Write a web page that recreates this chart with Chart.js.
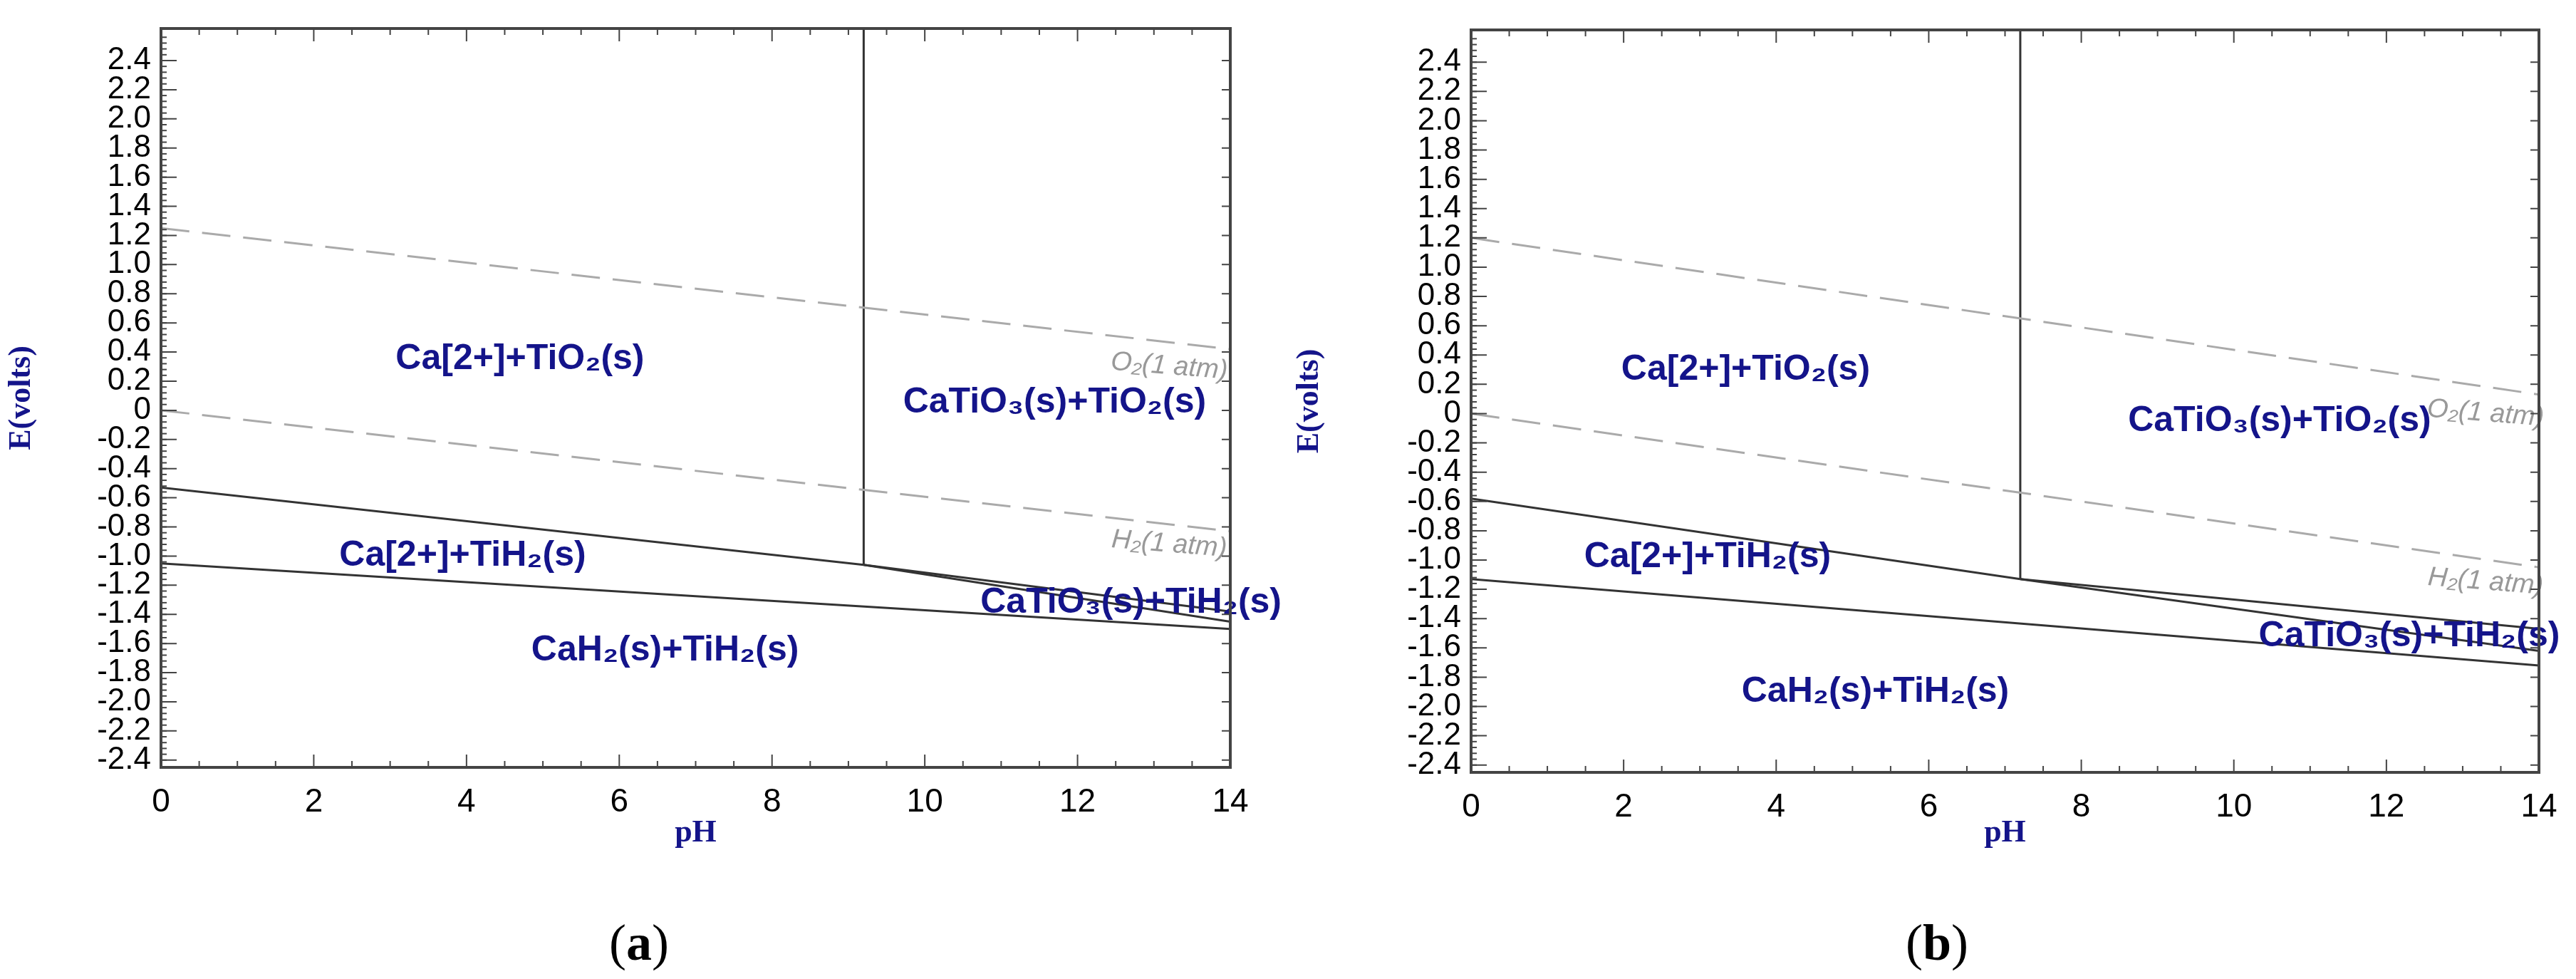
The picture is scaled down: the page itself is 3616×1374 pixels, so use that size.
<!DOCTYPE html>
<html>
<head>
<meta charset="utf-8">
<script src="https://cdn.jsdelivr.net/npm/chart.js@4.4.0/dist/chart.umd.min.js"></script>
<style>
  body { margin: 0; background: #fff; width: 3616px; height: 1374px; position: relative; overflow: hidden; }
  .panel { position: absolute; top: 0; width: 1808px; height: 1200px; }
  .cap { position: absolute; top: 1282px; font: 72px "Liberation Serif", serif; color: #000; }
</style>
</head>
<body>
<div class="panel" style="left:0"><canvas id="chartA"></canvas></div>
<div class="panel" style="left:1808px"><canvas id="chartB"></canvas></div>
<div class="cap" style="left:855px">(<b>a</b>)</div>
<div class="cap" style="left:2675px">(<b>b</b>)</div>
<script>
const phTicks = [0, 2, 4, 6, 8, 10, 12, 14];
const eTicks = [-2.4, -2.2, -2.0, -1.8, -1.6, -1.4, -1.2, -1.0, -0.8, -0.6, -0.4, -0.2, 0, 0.2, 0.4, 0.6, 0.8, 1.0, 1.2, 1.4, 1.6, 1.8, 2.0, 2.2, 2.4];

// panel (a)
const aO2 = [[0, 1.25], [14, 0.42]];
const aH2 = [[0, 0.0], [14, -0.83]];
const aVertical = [[9.2, 2.62], [9.2, -1.06]];
const aUpper = [[0, -0.53], [9.2, -1.06]];
const aBranch1 = [[9.2, -1.06], [14, -1.38]];
const aBranch2 = [[9.2, -1.06], [14, -1.45]];
const aLower = [[0, -1.05], [14, -1.50]];
const aLabels = [
  ["Ca[2+]+TiO₂(s)", 4.7, 0.35], ["CaTiO₃(s)+TiO₂(s)", 11.7, 0.05],
  ["Ca[2+]+TiH₂(s)", 3.95, -1.0], ["CaTiO₃(s)+TiH₂(s)", 12.7, -1.32],
  ["CaH₂(s)+TiH₂(s)", 6.6, -1.65]
];
const aGasLabels = [["O₂(1 atm)", 13.2, 0.3], ["H₂(1 atm)", 13.2, -0.92]];

// panel (b)
const bO2 = [[0, 1.2], [14, 0.13]];
const bH2 = [[0, 0.0], [14, -1.05]];
const bVertical = [[7.2, 2.62], [7.2, -1.13]];
const bUpper = [[0, -0.58], [7.2, -1.13]];
const bBranch1 = [[7.2, -1.13], [14, -1.47]];
const bBranch2 = [[7.2, -1.13], [14, -1.62]];
const bLower = [[0, -1.13], [14, -1.72]];
const bLabels = [
  ["Ca[2+]+TiO₂(s)", 3.6, 0.3], ["CaTiO₃(s)+TiO₂(s)", 10.6, -0.05],
  ["Ca[2+]+TiH₂(s)", 3.1, -0.98], ["CaTiO₃(s)+TiH₂(s)", 12.3, -1.52],
  ["CaH₂(s)+TiH₂(s)", 5.3, -1.9]
];
const bGasLabels = [["O₂(1 atm)", 13.3, 0.0], ["H₂(1 atm)", 13.3, -1.15]];

function pts(arr) { return arr.map(p => ({ x: p[0], y: p[1] })); }

function solid(arr) {
  return { data: pts(arr), showLine: true, borderColor: "#333", borderWidth: 3, pointRadius: 0 };
}
function dashed(arr) {
  return { data: pts(arr), showLine: true, borderColor: "#aaa", borderWidth: 3, borderDash: [40, 18], pointRadius: 0 };
}

const frameTicks = {
  id: "frameTicks",
  afterDraw(chart) {
    const { ctx, chartArea: a, scales } = chart;
    ctx.save();
    ctx.strokeStyle = "#444";
    ctx.lineWidth = 2;
    for (let v = 0; v <= 14.001; v += 0.5) {
      const x = scales.x.getPixelForValue(v);
      const len = Math.abs(v % 2) < 0.01 ? 18 : 9;
      ctx.beginPath();
      ctx.moveTo(x, a.bottom); ctx.lineTo(x, a.bottom - len);
      ctx.moveTo(x, a.top); ctx.lineTo(x, a.top + len);
      ctx.stroke();
    }
    for (const v of eTicks) {
      const y = scales.y.getPixelForValue(v);
      ctx.beginPath();
      ctx.moveTo(a.left, y); ctx.lineTo(a.left + 22, y);
      ctx.moveTo(a.right, y); ctx.lineTo(a.right - 12, y);
      ctx.stroke();
    }
    for (let v = -2.4; v <= 2.6; v += 0.04) {
      const y = scales.y.getPixelForValue(v);
      ctx.beginPath();
      ctx.moveTo(a.left, y); ctx.lineTo(a.left + 8, y);
      ctx.stroke();
    }
    ctx.lineWidth = 4;
    ctx.strokeRect(a.left, a.top, a.right - a.left, a.bottom - a.top);
    ctx.restore();
  }
};

const regionText = {
  id: "regionText",
  afterDatasetsDraw(chart, args, opts) {
    const { ctx, scales } = chart;
    ctx.save();
    ctx.textAlign = "center";
    ctx.textBaseline = "middle";
    ctx.fillStyle = "#14148a";
    ctx.font = "bold 50px 'Liberation Sans', Arial, sans-serif";
    for (const [t, x, y] of opts.labels) {
      ctx.fillText(t, scales.x.getPixelForValue(x), scales.y.getPixelForValue(y));
    }
    ctx.fillStyle = "#999";
    ctx.font = "italic 38px 'Liberation Sans', Arial, sans-serif";
    for (const [t, x, y] of opts.gas) {
      const px = scales.x.getPixelForValue(x), py = scales.y.getPixelForValue(y);
      ctx.save();
      ctx.translate(px, py);
      ctx.rotate(0.08);
      ctx.fillText(t, 0, 0);
      ctx.restore();
    }
    ctx.restore();
  }
};

function makeChart(id, lines, labels, gas, yWidth, xHeight, padTop, padRight) {
  return new Chart(document.getElementById(id), {
    type: "scatter",
    data: { datasets: lines },
    options: {
      responsive: false,
      animation: false,
      devicePixelRatio: 1,
      layout: { padding: { left: 0, top: padTop, right: padRight, bottom: 0 } },
      plugins: { legend: { display: false }, tooltip: { enabled: false }, regionText: { labels: labels, gas: gas } },
      scales: {
        x: {
          type: "linear", min: 0, max: 14,
          afterBuildTicks: s => { s.ticks = phTicks.map(v => ({ value: v })); },
          afterFit: s => { s.height = xHeight; },
          grid: { display: false },
          border: { display: false },
          ticks: { color: "#000", font: { size: 46, family: "'Liberation Sans', Arial" }, padding: 14, maxRotation: 0 },
          title: { display: true, text: "pH", color: "#14148a", font: { size: 44, weight: "bold", family: "'Liberation Serif', serif" }, padding: { top: 2 } }
        },
        y: {
          type: "linear", min: -2.45, max: 2.62,
          afterBuildTicks: s => { s.ticks = eTicks.map(v => ({ value: v })); },
          afterFit: s => { s.width = yWidth; },
          grid: { display: false },
          border: { display: false },
          ticks: {
            autoSkip: false, color: "#000", padding: 6,
            font: { size: 44, family: "'Liberation Sans Narrow', 'Liberation Sans', Arial" },
            callback: v => v === 0 ? "0" : v.toFixed(1)
          },
          title: { display: true, text: "E(volts)", color: "#14148a", font: { size: 44, weight: "bold", family: "'Liberation Serif', serif" }, padding: { bottom: 0 } }
        }
      }
    },
    plugins: [frameTicks, regionText]
  });
}

function sizeCanvas(id) {
  const c = document.getElementById(id);
  c.width = 1808; c.height = 1200;
  c.style.width = "1808px"; c.style.height = "1200px";
}
sizeCanvas("chartA");
sizeCanvas("chartB");

makeChart("chartA",
  [dashed(aO2), dashed(aH2), solid(aVertical), solid(aUpper), solid(aBranch1), solid(aBranch2), solid(aLower)],
  aLabels, aGasLabels, 226, 123, 40, 81);
makeChart("chartB",
  [dashed(bO2), dashed(bH2), solid(bVertical), solid(bUpper), solid(bBranch1), solid(bBranch2), solid(bLower)],
  bLabels, bGasLabels, 257, 116, 42, 52);
</script>
</body>
</html>
